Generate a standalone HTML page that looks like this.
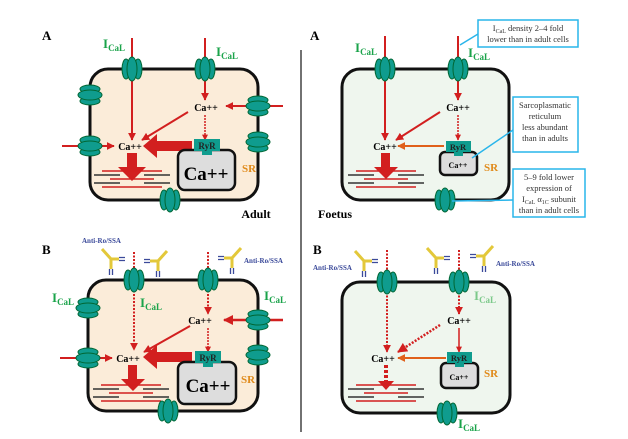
<!DOCTYPE html>
<html><head><meta charset="utf-8"><style>
html,body{margin:0;padding:0;background:#fff;width:628px;height:439px;overflow:hidden}
svg{display:block}
text{font-family:"Liberation Serif",serif}
</style></head><body>
<svg width="628" height="439" viewBox="0 0 628 439" xmlns="http://www.w3.org/2000/svg">
<defs>
<marker id="ar" viewBox="0 0 10 10" refX="9" refY="5" markerWidth="4" markerHeight="4" orient="auto"><path d="M0,0L10,5L0,10z" fill="#d21f1f"/></marker>
<marker id="ao" viewBox="0 0 10 10" refX="9" refY="5" markerWidth="4" markerHeight="4" orient="auto"><path d="M0,0L10,5L0,10z" fill="#e0601a"/></marker>
<g id="cv"><ellipse cx="-6" cy="0" rx="4" ry="10" fill="#0f9c8e" stroke="#063" stroke-width="1"/><ellipse cx="6" cy="0" rx="4" ry="10" fill="#0f9c8e" stroke="#063" stroke-width="1"/><ellipse cx="0" cy="0" rx="5" ry="12" fill="#0f9c8e" stroke="#063" stroke-width="1"/></g>
<g id="ch"><ellipse cx="0" cy="-6" rx="10" ry="4" fill="#0f9c8e" stroke="#063" stroke-width="1"/><ellipse cx="0" cy="6" rx="10" ry="4" fill="#0f9c8e" stroke="#063" stroke-width="1"/><ellipse cx="0" cy="0" rx="12" ry="5" fill="#0f9c8e" stroke="#063" stroke-width="1"/></g>
<g id="myo"><g stroke="#d21f1f" stroke-width="1.5"><line x1="-30" y1="-6" x2="30" y2="-6"/><line x1="-22" y1="2" x2="22" y2="2"/><line x1="-30" y1="10" x2="30" y2="10"/></g><g stroke="#333" stroke-width="1.5"><line x1="-38" y1="-2" x2="-12" y2="-2"/><line x1="12" y1="-2" x2="38" y2="-2"/><line x1="-38" y1="6" x2="-12" y2="6"/><line x1="12" y1="6" x2="38" y2="6"/></g></g>
<g id="ab"><path d="M-9,-10L0,0L8,0M0,0L0,10" stroke="#e3c83a" stroke-width="3" fill="none"/><path d="M8,-1.5h6M8,1.5h6M-1.5,10v6M1.5,10v6" stroke="#3b4a9a" stroke-width="1.3"/></g>
</defs>
<rect x="0" y="0" width="628" height="439" fill="#fff"/>
<line x1="301" y1="50" x2="301" y2="432" stroke="#444" stroke-width="1.5"/>

<!-- Panel A adult -->
<text x="42" y="40" font-family="Liberation Sans" font-weight="bold" font-size="13">A</text>
<rect x="90" y="69" width="168" height="131" rx="18" fill="#fbecd9" stroke="#111" stroke-width="3"/>
<line x1="132" y1="38" x2="132" y2="140" stroke="#d21f1f" stroke-width="2" marker-end="url(#ar)"/>
<line x1="205" y1="38" x2="205" y2="100" stroke="#d21f1f" stroke-width="2" marker-end="url(#ar)"/>
<line x1="283" y1="106" x2="226" y2="106" stroke="#d21f1f" stroke-width="2" marker-end="url(#ar)"/>
<line x1="62" y1="146" x2="114" y2="146" stroke="#d21f1f" stroke-width="2" marker-end="url(#ar)"/>
<line x1="188" y1="112" x2="142" y2="140" stroke="#d21f1f" stroke-width="2" marker-end="url(#ar)"/>
<line x1="205" y1="115" x2="205" y2="140" stroke="#d21f1f" stroke-width="1.5" stroke-dasharray="2,1" marker-end="url(#ar)"/>
<path d="M192,141h-35v-7l-14,12l14,12v-7h35z" fill="#d21f1f"/>
<path d="M127,153h10v14h9l-14,14l-14,-14h9z" fill="#d21f1f"/>
<use href="#myo" x="132" y="177"/>
<use href="#cv" x="132" y="69"/><use href="#cv" x="205" y="69"/><use href="#cv" x="170" y="200"/>
<use href="#ch" x="90" y="95"/><use href="#ch" x="90" y="146"/><use href="#ch" x="258" y="106"/><use href="#ch" x="258" y="142"/>
<rect x="178" y="150" width="57" height="40" rx="7" fill="#ddd" stroke="#111" stroke-width="2.5"/>
<rect x="194" y="139" width="26" height="12" fill="#0f9c8e"/><rect x="202" y="150" width="10" height="5" fill="#0f9c8e"/>
<text x="207" y="149" font-size="9" font-weight="bold" text-anchor="middle" fill="#222">RyR</text>
<text x="206" y="180" font-size="19" font-weight="bold" text-anchor="middle">Ca++</text>
<text x="242" y="172" font-size="11" font-weight="bold" fill="#e08a1a">SR</text>
<text x="206" y="111" font-size="10" font-weight="bold" text-anchor="middle">Ca++</text>
<text x="130" y="150" font-size="10" font-weight="bold" text-anchor="middle">Ca++</text>
<text x="103" y="48" font-size="13" font-weight="bold" fill="#1aa34a">I<tspan font-size="9" dy="3">CaL</tspan></text>
<text x="216" y="56" font-size="13" font-weight="bold" fill="#1aa34a">I<tspan font-size="9" dy="3">CaL</tspan></text>
<text x="256" y="218" font-family="Liberation Sans" font-size="12" font-weight="bold" text-anchor="middle">Adult</text>

<!-- Panel A foetus -->
<text x="310" y="40" font-family="Liberation Sans" font-weight="bold" font-size="13">A</text>
<rect x="342" y="69" width="167" height="131" rx="18" fill="#eff6ee" stroke="#111" stroke-width="3"/>
<line x1="385" y1="36" x2="385" y2="140" stroke="#d21f1f" stroke-width="2" marker-end="url(#ar)"/>
<line x1="458" y1="36" x2="458" y2="100" stroke="#d21f1f" stroke-width="2" marker-end="url(#ar)"/>
<line x1="440" y1="112" x2="396" y2="140" stroke="#d21f1f" stroke-width="2" marker-end="url(#ar)"/>
<line x1="458" y1="115" x2="458" y2="140" stroke="#d21f1f" stroke-width="1.5" stroke-dasharray="2,1" marker-end="url(#ar)"/>
<line x1="444" y1="146" x2="398" y2="146" stroke="#e0601a" stroke-width="2" marker-end="url(#ao)"/>
<path d="M381,153h9v14h8l-12,12l-12,-12h7z" fill="#d21f1f"/>
<use href="#myo" x="386" y="177"/>
<use href="#cv" x="385" y="69"/><use href="#cv" x="458" y="69"/><use href="#cv" x="445" y="200"/>
<rect x="440" y="152" width="37" height="23" rx="5" fill="#ddd" stroke="#111" stroke-width="2.5"/>
<rect x="446" y="141" width="25" height="11" fill="#0f9c8e"/><rect x="454" y="151" width="9" height="5" fill="#0f9c8e"/>
<text x="458" y="150" font-size="8.5" font-weight="bold" text-anchor="middle" fill="#222">RyR</text>
<text x="458" y="168" font-size="8" font-weight="bold" text-anchor="middle">Ca++</text>
<text x="484" y="171" font-size="11" font-weight="bold" fill="#e08a1a">SR</text>
<text x="458" y="111" font-size="10" font-weight="bold" text-anchor="middle">Ca++</text>
<text x="385" y="150" font-size="10" font-weight="bold" text-anchor="middle">Ca++</text>
<text x="355" y="52" font-size="13" font-weight="bold" fill="#1aa34a">I<tspan font-size="9" dy="3">CaL</tspan></text>
<text x="468" y="57" font-size="13" font-weight="bold" fill="#1aa34a">I<tspan font-size="9" dy="3">CaL</tspan></text>
<text x="318" y="218" font-family="Liberation Sans" font-size="12" font-weight="bold">Foetus</text>
<!-- callouts -->
<g stroke="#29b5ea" stroke-width="1.5" fill="#fff">
<line x1="460" y1="45" x2="478" y2="34"/>
<line x1="472" y1="158" x2="513" y2="130"/>
<line x1="452" y1="201" x2="513" y2="200"/>
<rect x="478" y="20" width="100" height="27"/>
<rect x="513" y="97" width="65" height="55"/>
<rect x="513" y="169" width="72" height="48"/>
</g>
<g font-size="8.5" fill="#333" text-anchor="middle">
<text x="528" y="31">I<tspan font-size="6" dy="2">CaL</tspan><tspan dy="-2"> density 2–4 fold</tspan></text>
<text x="528" y="42">lower than in adult cells</text>
<text x="545" y="108">Sarcoplasmatic</text><text x="545" y="119">reticulum</text><text x="545" y="130">less abundant</text><text x="545" y="141">than in adults</text>
<text x="549" y="180">5–9 fold lower</text><text x="549" y="191">expression of</text><text x="549" y="202">I<tspan font-size="6" dy="2">CaL</tspan><tspan dy="-2"> α</tspan><tspan font-size="6" dy="2">1C</tspan><tspan dy="-2"> subunit</tspan></text><text x="549" y="213">than in adult cells</text>
</g>

<!-- Panel B adult -->
<text x="42" y="254" font-family="Liberation Sans" font-weight="bold" font-size="13">B</text>
<rect x="88" y="280" width="170" height="131" rx="18" fill="#fbecd9" stroke="#111" stroke-width="3"/>
<line x1="134" y1="252" x2="134" y2="350" stroke="#d21f1f" stroke-width="2" stroke-dasharray="2,1.5" marker-end="url(#ar)"/>
<line x1="208" y1="252" x2="208" y2="314" stroke="#d21f1f" stroke-width="2" stroke-dasharray="2,1.5" marker-end="url(#ar)"/>
<line x1="283" y1="320" x2="224" y2="320" stroke="#d21f1f" stroke-width="2.5" marker-end="url(#ar)"/>
<line x1="60" y1="358" x2="112" y2="358" stroke="#d21f1f" stroke-width="2" marker-end="url(#ar)"/>
<line x1="190" y1="326" x2="144" y2="352" stroke="#d21f1f" stroke-width="2" marker-end="url(#ar)"/>
<line x1="208" y1="328" x2="208" y2="352" stroke="#d21f1f" stroke-width="1.5" stroke-dasharray="2,1" marker-end="url(#ar)"/>
<path d="M192,352h-35v-7l-14,12l14,12v-7h35z" fill="#d21f1f"/>
<path d="M128,365h9v14h8l-12,12l-12,-12h7z" fill="#d21f1f"/>
<use href="#myo" x="131" y="391"/>
<use href="#cv" x="134" y="280"/><use href="#cv" x="208" y="280"/><use href="#cv" x="168" y="411"/>
<use href="#ch" x="88" y="308"/><use href="#ch" x="88" y="358"/><use href="#ch" x="258" y="320"/><use href="#ch" x="258" y="355"/>
<rect x="178" y="362" width="58" height="42" rx="7" fill="#ddd" stroke="#111" stroke-width="2.5"/>
<rect x="195" y="351" width="26" height="12" fill="#0f9c8e"/><rect x="203" y="362" width="10" height="5" fill="#0f9c8e"/>
<text x="208" y="361" font-size="9" font-weight="bold" text-anchor="middle" fill="#222">RyR</text>
<text x="208" y="392" font-size="19" font-weight="bold" text-anchor="middle">Ca++</text>
<text x="241" y="383" font-size="11" font-weight="bold" fill="#e08a1a">SR</text>
<text x="200" y="324" font-size="10" font-weight="bold" text-anchor="middle">Ca++</text>
<text x="128" y="362" font-size="10" font-weight="bold" text-anchor="middle">Ca++</text>
<text x="52" y="302" font-size="13" font-weight="bold" fill="#1aa34a">I<tspan font-size="9" dy="3">CaL</tspan></text>
<text x="140" y="307" font-size="13" font-weight="bold" fill="#1aa34a">I<tspan font-size="9" dy="3">CaL</tspan></text>
<text x="264" y="300" font-size="13" font-weight="bold" fill="#1aa34a">I<tspan font-size="9" dy="3">CaL</tspan></text>
<use href="#ab" transform="translate(111,259)"/>
<use href="#ab" transform="translate(158,261) scale(-1,1)"/>
<use href="#ab" transform="translate(232,258) scale(-1,1)"/>
<g font-size="7" font-weight="bold" fill="#3b4a9a"><text x="82" y="243">Anti-Ro/SSA</text><text x="244" y="263">Anti-Ro/SSA</text>
<text x="313" y="270">Anti-Ro/SSA</text><text x="496" y="266">Anti-Ro/SSA</text></g>

<!-- Panel B foetus -->
<text x="313" y="254" font-family="Liberation Sans" font-weight="bold" font-size="13">B</text>
<rect x="342" y="282" width="168" height="131" rx="18" fill="#eff6ee" stroke="#111" stroke-width="3"/>
<line x1="387" y1="250" x2="387" y2="352" stroke="#d21f1f" stroke-width="2" stroke-dasharray="2,1.5" marker-end="url(#ar)"/>
<line x1="459" y1="250" x2="459" y2="314" stroke="#d21f1f" stroke-width="2" stroke-dasharray="2,1.5" marker-end="url(#ar)"/>
<line x1="440" y1="325" x2="398" y2="352" stroke="#d21f1f" stroke-width="2.5" stroke-dasharray="2,1.5" marker-end="url(#ar)"/>
<line x1="459" y1="328" x2="459" y2="352" stroke="#d21f1f" stroke-width="1.5" marker-end="url(#ar)"/>
<line x1="446" y1="358" x2="398" y2="358" stroke="#e0601a" stroke-width="2" marker-end="url(#ao)"/>
<line x1="386" y1="365" x2="386" y2="382" stroke="#d21f1f" stroke-width="4" stroke-dasharray="3,2"/>
<path d="M378,381h16l-8,9z" fill="#d21f1f"/>
<use href="#myo" x="386" y="391"/>
<use href="#cv" x="387" y="282"/><use href="#cv" x="459" y="282"/><use href="#cv" x="447" y="413"/>
<rect x="441" y="363" width="37" height="25" rx="5" fill="#ddd" stroke="#111" stroke-width="2.5"/>
<rect x="447" y="352" width="25" height="11" fill="#0f9c8e"/><rect x="455" y="362" width="9" height="5" fill="#0f9c8e"/>
<text x="459" y="361" font-size="8.5" font-weight="bold" text-anchor="middle" fill="#222">RyR</text>
<text x="459" y="380" font-size="8" font-weight="bold" text-anchor="middle">Ca++</text>
<text x="484" y="377" font-size="11" font-weight="bold" fill="#e08a1a">SR</text>
<text x="459" y="324" font-size="10" font-weight="bold" text-anchor="middle">Ca++</text>
<text x="383" y="362" font-size="10" font-weight="bold" text-anchor="middle">Ca++</text>
<text x="474" y="300" font-size="13" font-weight="bold" fill="#7cc98a">I<tspan font-size="9" dy="3">CaL</tspan></text>
<text x="458" y="428" font-size="13" font-weight="bold" fill="#1aa34a">I<tspan font-size="9" dy="3">CaL</tspan></text>
<use href="#ab" transform="translate(364,261)"/>
<use href="#ab" transform="translate(436,258)"/>
<use href="#ab" transform="translate(484,256) scale(-1,1)"/>
</svg>
</body></html>
